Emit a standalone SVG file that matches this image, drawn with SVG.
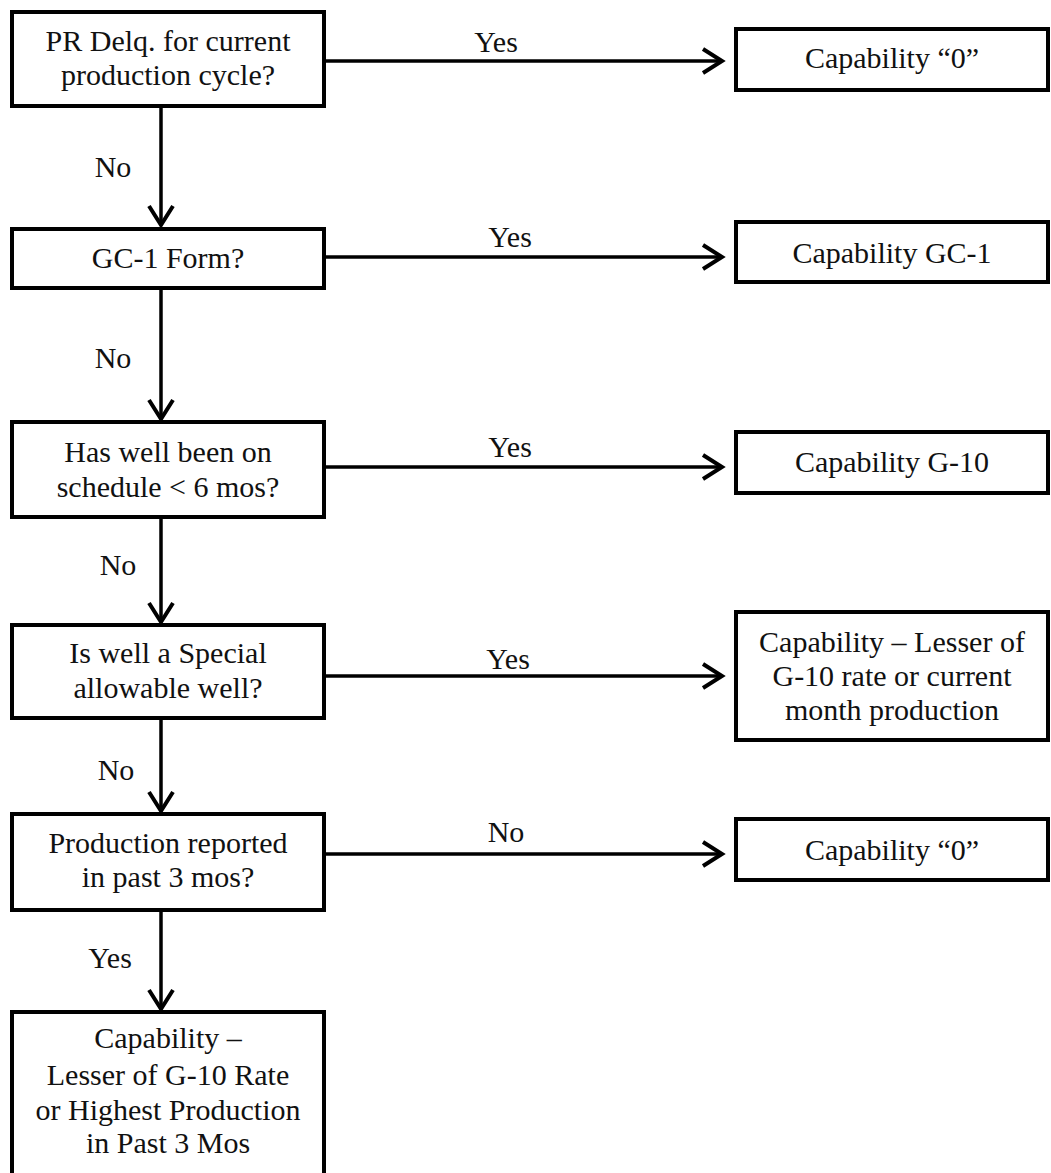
<svg xmlns="http://www.w3.org/2000/svg" width="1051" height="1173" viewBox="0 0 1051 1173">
<style>
.box{fill:#fff;stroke:#000;stroke-width:4}
.t{font-family:"Liberation Serif","Times New Roman",serif;font-size:30px;fill:#111;text-anchor:middle}
.c{stroke:#000;stroke-width:3.5;fill:none}
</style>
<defs>
<marker id="arr" viewBox="0 0 26 28" markerWidth="26" markerHeight="28" refX="22" refY="14" orient="auto" markerUnits="userSpaceOnUse">
<path d="M3,2 L22,14 L3,26" fill="none" stroke="#000" stroke-width="4"/>
</marker>
</defs>
<rect width="1051" height="1173" fill="#fff"/>
<g id="connectors">
<line class="c" x1="161" y1="106" x2="161" y2="225" marker-end="url(#arr)"/>
<line class="c" x1="161" y1="288" x2="161" y2="419" marker-end="url(#arr)"/>
<line class="c" x1="161" y1="517" x2="161" y2="622" marker-end="url(#arr)"/>
<line class="c" x1="161" y1="718" x2="161" y2="811" marker-end="url(#arr)"/>
<line class="c" x1="161" y1="910" x2="161" y2="1009" marker-end="url(#arr)"/>
<line class="c" x1="324" y1="61" x2="722" y2="61" marker-end="url(#arr)"/>
<line class="c" x1="324" y1="257" x2="722" y2="257" marker-end="url(#arr)"/>
<line class="c" x1="324" y1="467" x2="722" y2="467" marker-end="url(#arr)"/>
<line class="c" x1="324" y1="676" x2="722" y2="676" marker-end="url(#arr)"/>
<line class="c" x1="324" y1="854" x2="722" y2="854" marker-end="url(#arr)"/>
<text class="t" x="496" y="52">Yes</text>
<text class="t" x="510" y="247">Yes</text>
<text class="t" x="510" y="457">Yes</text>
<text class="t" x="508" y="669">Yes</text>
<text class="t" x="506" y="842">No</text>
<text class="t" x="113" y="177">No</text>
<text class="t" x="113" y="368">No</text>
<text class="t" x="118" y="575">No</text>
<text class="t" x="116" y="780">No</text>
<text class="t" x="110" y="968">Yes</text>
</g>
<g id="q1">
<rect class="box" x="12" y="12" width="312" height="94"/>
<text class="t" x="168" y="51">PR Delq. for current</text>
<text class="t" x="168" y="85">production cycle?</text>
</g>
<g id="q2">
<rect class="box" x="12" y="229" width="312" height="59"/>
<text class="t" x="168" y="268">GC-1 Form?</text>
</g>
<g id="q3">
<rect class="box" x="12" y="422" width="312" height="95"/>
<text class="t" x="168" y="462">Has well been on</text>
<text class="t" x="168" y="497">schedule &lt; 6 mos?</text>
</g>
<g id="q4">
<rect class="box" x="12" y="625" width="312" height="93"/>
<text class="t" x="168" y="663">Is well a Special</text>
<text class="t" x="168" y="698">allowable well?</text>
</g>
<g id="q5">
<rect class="box" x="12" y="814" width="312" height="96"/>
<text class="t" x="168" y="853">Production reported</text>
<text class="t" x="168" y="887">in past 3 mos?</text>
</g>
<g id="r6">
<rect class="box" x="12" y="1012" width="312" height="180"/>
<text class="t" x="168" y="1048">Capability –</text>
<text class="t" x="168" y="1085">Lesser of G-10 Rate</text>
<text class="t" x="168" y="1120">or Highest Production</text>
<text class="t" x="168" y="1153">in Past 3 Mos</text>
</g>
<g id="r1">
<rect class="box" x="736" y="29" width="312" height="61"/>
<text class="t" x="892" y="68">Capability “0”</text>
</g>
<g id="r2">
<rect class="box" x="736" y="222" width="312" height="60"/>
<text class="t" x="892" y="263">Capability GC-1</text>
</g>
<g id="r3">
<rect class="box" x="736" y="432" width="312" height="61"/>
<text class="t" x="892" y="472">Capability G-10</text>
</g>
<g id="r4">
<rect class="box" x="736" y="612" width="312" height="128"/>
<text class="t" x="892" y="652">Capability – Lesser of</text>
<text class="t" x="892" y="686">G-10 rate or current</text>
<text class="t" x="892" y="720">month production</text>
</g>
<g id="r5">
<rect class="box" x="736" y="819" width="312" height="61"/>
<text class="t" x="892" y="860">Capability “0”</text>
</g>
</svg>
